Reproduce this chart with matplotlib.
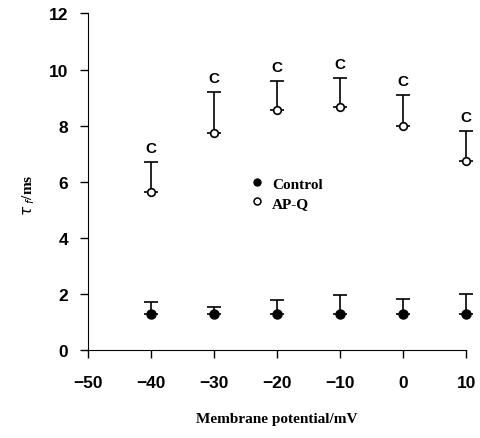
import matplotlib
matplotlib.use("Agg")
import matplotlib.pyplot as plt
from matplotlib.lines import Line2D

potential = [-40, -30, -20, -10, 0, 10]
control_mean = [1.3, 1.3, 1.3, 1.3, 1.28, 1.3]
control_err = [0.4, 0.22, 0.47, 0.65, 0.55, 0.68]
apq_mean = [5.65, 7.75, 8.55, 8.65, 8.0, 6.75]
apq_err = [1.05, 1.45, 1.05, 1.05, 1.1, 1.05]
sig_label = ["C", "C", "C", "C", "C", "C"]
xticks = [-50, -40, -30, -20, -10, 0, 10]
yticks = [0, 2, 4, 6, 8, 10, 12]

fig = plt.figure(figsize=(4.8, 4.39), dpi=100)
ax = fig.add_axes([0.183, 0.2005, 0.788, 0.7665])

zeros = [0] * len(potential)
c = ax.errorbar(potential, control_mean, yerr=[zeros, control_err], fmt='o',
                color='black', mfc='black', ms=6.5, capsize=5, elinewidth=1.2,
                capthick=1.2, zorder=3)
a = ax.errorbar(potential, apq_mean, yerr=[zeros, apq_err], fmt='o',
                color='black', mfc='white', ms=5.5, mew=1.2, capsize=5,
                elinewidth=1.2, capthick=1.2, zorder=3)
for cont in (c, a):
    for art in cont.get_children():
        art.set_clip_on(False)

for x, m, e, s in zip(potential, apq_mean, apq_err, sig_label):
    ax.text(x, m + e + 0.25, s, ha='center', va='bottom',
            fontsize=11, family='Liberation Sans', fontweight='bold')

ax.set_xlim(-50, 10)
ax.set_ylim(0, 12)
ax.set_xticks(xticks)
ax.set_yticks(yticks)
ax.set_xticklabels([str(t).replace('-', '\u2212') for t in xticks])
ax.tick_params(axis='both', direction='out', length=6, width=1,
               labelsize=12.5, pad=8)
for lab in ax.get_xticklabels() + ax.get_yticklabels():
    lab.set_family('Liberation Sans')
    lab.set_fontweight('bold')
ax.tick_params(axis='x', pad=12)

ax.spines['top'].set_visible(False)
ax.spines['right'].set_visible(False)

ax.set_xlabel('Membrane potential/mV', family='Liberation Serif',
              fontweight='bold', fontsize=11, labelpad=16)
ax.set_ylabel(r'$\tau_{\ f}$/ms', family='Liberation Serif',
              fontweight='bold', fontsize=11)
ax.yaxis.set_label_coords(-0.135, 0.463)

handles = [Line2D([], [], ls='none', marker='o', color='black', mfc='black', ms=5),
           Line2D([], [], ls='none', marker='o', color='black', mfc='white', ms=5, mew=1.1)]
ax.legend(handles, ['Control', 'AP-Q'], loc='upper left',
          bbox_to_anchor=(0.39, 0.555), frameon=False,
          handletextpad=0.5, handlelength=1.0, labelspacing=0.35,
          prop={'family': 'Liberation Serif', 'weight': 'bold', 'size': 11})

fig.savefig('out.png', dpi=100)
